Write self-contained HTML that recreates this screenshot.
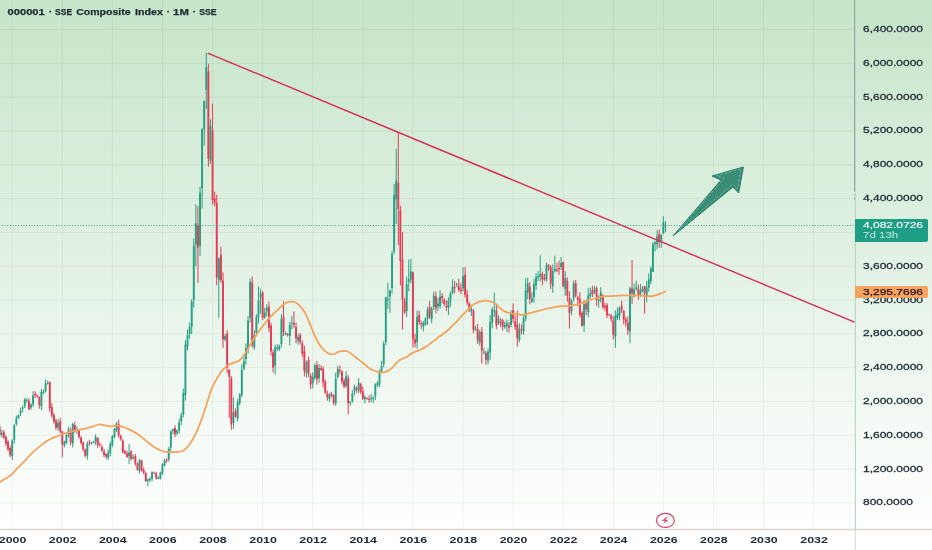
<!DOCTYPE html>
<html lang="en"><head><meta charset="utf-8"><title>000001 SSE Composite Index 1M</title>
<style>html,body{margin:0;padding:0;background:#fff;overflow:hidden}svg{display:block}</style></head>
<body><svg width="932" height="550" viewBox="0 0 932 550" font-family="'Liberation Sans', sans-serif">
<defs><linearGradient id="bg" x1="0" y1="0" x2="0" y2="1"><stop offset="0" stop-color="#c6e5c9"/><stop offset="0.55" stop-color="#e7f4e9"/><stop offset="0.96" stop-color="#ffffff"/><stop offset="1" stop-color="#ffffff"/></linearGradient><clipPath id="cp"><rect x="0" y="0" width="855" height="529"/></clipPath></defs>
<rect width="932" height="550" fill="url(#bg)"/>
<path d="M12.2 0V529 M62.290000000000006 0V529 M112.38000000000001 0V529 M162.47 0V529 M212.56 0V529 M262.65000000000003 0V529 M312.74 0V529 M362.83 0V529 M412.92 0V529 M463.01000000000005 0V529 M513.1 0V529 M563.19 0V529 M613.2800000000001 0V529 M663.3700000000001 0V529 M713.46 0V529 M763.5500000000001 0V529 M813.6400000000001 0V529 M0 502.9H855 M0 469.1H855 M0 435.3H855 M0 401.5H855 M0 367.6H855 M0 333.8H855 M0 300.0H855 M0 266.2H855 M0 232.4H855 M0 198.6H855 M0 164.8H855 M0 130.9H855 M0 97.1H855 M0 63.3H855 M0 29.5H855" stroke="#284632" stroke-opacity="0.068" stroke-width="1" fill="none"/>
<g clip-path="url(#cp)">
<path d="M1.76 429.9V437.4M12.20 439.1V459.9M14.29 424.0V443.6M16.37 415.5V425.8M18.46 414.3V418.8M20.55 407.6V416.0M22.64 405.6V412.3M24.72 397.9V408.0M26.81 398.3V403.0M30.98 402.9V409.7M33.07 391.2V407.0M41.42 388.9V410.3M43.51 389.7V394.2M45.59 379.3V392.5M47.68 380.7V384.7M58.12 419.2V430.7M64.38 440.8V447.4M66.46 433.5V444.0M68.55 426.6V437.8M72.73 422.8V447.5M76.90 426.3V434.0M87.34 441.4V459.7M91.51 441.8V444.5M93.60 440.9V442.7M95.68 434.1V445.2M108.21 449.6V460.0M110.29 441.6V456.3M112.38 434.9V447.1M114.47 427.8V438.3M116.55 421.9V432.2M129.08 444.1V464.1M133.25 454.5V459.6M139.51 459.1V473.4M147.86 478.6V486.2M149.95 476.8V481.9M152.03 471.2V481.6M158.30 476.3V479.2M160.38 471.6V479.6M162.47 463.3V475.0M164.56 458.8V466.6M168.73 446.8V461.6M170.82 430.1V450.8M172.91 428.6V434.3M177.08 429.4V435.3M179.17 418.9V433.8M181.25 412.5V425.0M183.34 388.7V417.2M185.43 340.2V400.4M187.52 329.5V350.6M189.60 322.7V338.9M191.69 299.3V333.9M193.78 238.3V307.6M195.86 204.1V266.2M200.04 186.8V256.0M202.12 128.0V208.4M204.21 100.5V145.7M206.30 52.8V108.8M210.47 119.4V163.7M218.82 257.3V317.8M225.08 333.8V341.4M233.43 397.2V428.7M237.61 399.1V421.5M239.69 393.1V405.3M241.78 364.3V397.3M243.87 356.4V370.2M245.95 343.4V364.5M248.04 316.1V353.6M250.13 278.5V322.5M254.30 330.1V349.9M256.39 314.4V336.2M258.48 286.4V323.4M260.56 288.7V313.6M264.74 307.7V318.7M266.82 304.3V316.3M275.17 344.7V374.5M277.26 344.2V351.2M279.35 344.6V351.0M281.43 314.0V347.2M285.61 331.5V335.3M289.78 321.7V345.6M291.87 315.9V329.6M298.13 333.7V344.7M306.48 360.6V377.8M312.74 372.3V388.1M314.83 363.5V379.9M319.00 364.0V382.7M329.44 393.2V401.8M335.70 372.8V405.8M337.79 365.9V378.9M346.13 371.2V387.8M350.31 400.9V405.8M352.39 390.3V402.8M354.48 384.8V395.1M358.66 378.1V393.3M364.92 395.4V403.3M371.18 394.0V402.2M373.27 396.2V402.9M375.35 383.2V400.2M377.44 381.0V386.9M379.53 369.5V387.1M381.61 360.9V372.9M383.70 341.1V367.2M385.79 296.7V345.2M387.88 282.6V308.9M389.96 289.5V312.8M392.05 250.8V293.7M394.14 184.0V254.2M396.22 149.0V224.0M406.66 276.7V317.1M408.75 259.6V291.4M410.83 259.1V283.2M417.09 310.5V348.4M423.36 321.1V331.4M425.44 317.4V325.6M427.53 306.8V325.0M431.70 306.7V323.2M433.79 291.8V309.9M437.97 297.8V311.3M440.05 290.4V308.9M448.40 297.3V315.0M450.49 291.4V306.5M452.57 279.3V294.5M456.75 282.7V287.3M463.01 267.3V291.6M471.36 304.7V316.0M475.53 325.8V331.1M479.71 330.3V345.8M483.88 347.9V354.8M488.06 348.4V364.3M490.14 314.9V360.3M492.23 306.8V328.4M494.32 292.6V316.9M498.49 315.4V325.1M504.75 321.5V328.8M506.84 319.3V332.0M511.01 310.2V327.2M519.36 323.4V342.4M523.54 315.7V334.8M525.62 278.2V321.2M527.71 277.8V299.2M531.88 292.2V303.1M533.97 279.0V302.7M536.06 273.1V290.1M538.15 271.1V281.1M540.23 255.1V281.4M546.49 262.6V281.9M552.75 264.6V292.9M554.84 255.8V272.3M561.10 257.1V270.0M565.28 271.5V295.9M571.54 299.1V315.2M573.63 280.4V301.7M584.06 300.2V332.1M588.24 287.8V317.3M590.32 287.7V298.5M594.50 286.1V294.1M598.67 295.4V307.8M600.76 287.2V302.3M615.37 310.4V347.8M617.45 307.4V320.1M619.54 306.5V320.3M629.98 286.7V343.2M634.15 283.5V297.4M636.24 280.7V290.7M640.41 284.0V296.9M642.50 285.9V292.3M646.67 281.2V302.4M648.76 273.5V291.9M650.85 266.3V284.3M652.93 241.9V271.8M655.02 240.9V251.5M657.11 230.3V249.3M661.28 234.2V247.9M663.37 216.3V234.2M665.46 221.0V231.8" stroke="#27a083" stroke-width="1" fill="none"/>
<path d="M-0.32 424.1V436.2M3.85 430.1V439.0M5.94 435.3V446.3M8.03 440.2V451.1M10.11 445.5V457.2M28.90 398.3V410.4M35.16 391.4V397.8M37.25 394.7V398.1M39.33 396.4V408.6M49.77 381.8V412.2M51.85 403.3V417.8M53.94 412.7V423.8M56.03 418.6V430.2M60.20 417.8V433.1M62.29 431.2V457.3M70.64 427.8V445.3M74.81 421.5V432.8M78.99 428.9V439.1M81.07 436.2V444.7M83.16 441.7V451.5M85.25 448.8V457.3M89.42 439.8V445.8M97.77 437.0V448.1M99.86 442.4V446.4M101.94 444.8V452.0M104.03 448.8V457.0M106.12 453.5V459.1M118.64 419.8V437.6M120.73 434.7V440.6M122.82 439.0V453.3M124.90 449.8V454.2M126.99 450.7V457.8M131.16 449.9V460.9M135.34 454.0V465.7M137.43 462.4V470.6M141.60 459.6V471.7M143.69 467.6V474.4M145.77 471.9V482.2M154.12 471.8V473.1M156.21 471.7V479.7M166.64 458.2V462.8M174.99 425.3V437.1M197.95 206.0V282.8M208.39 63.7V166.6M212.56 103.7V204.5M214.65 191.8V206.4M216.73 194.7V285.1M220.91 246.7V282.7M223.00 272.4V348.1M227.17 330.0V373.0M229.26 369.6V418.2M231.34 376.1V429.9M235.52 408.5V417.5M252.21 276.5V347.4M262.65 291.1V320.1M268.91 301.6V332.1M271.00 322.7V355.7M273.09 349.5V372.5M283.52 301.2V336.0M287.70 333.0V336.5M293.96 311.3V327.8M296.04 322.6V343.2M300.22 333.0V344.5M302.30 340.6V356.7M304.39 345.8V376.5M308.57 356.6V377.1M310.65 373.1V389.3M316.91 361.0V384.5M321.09 365.2V370.8M323.18 366.4V387.5M325.26 379.5V394.3M327.35 390.8V400.7M331.52 391.8V397.1M333.61 394.4V405.1M339.87 365.5V374.2M341.96 370.4V384.6M344.05 378.3V388.3M348.22 375.0V414.2M356.57 386.5V393.0M360.74 382.5V394.2M362.83 386.6V400.1M367.00 397.6V399.3M369.09 395.4V402.9M398.31 132.8V245.3M400.40 205.6V285.4M402.48 231.9V329.6M404.57 297.9V313.9M412.92 271.4V347.5M415.01 333.8V347.5M419.18 310.7V324.9M421.27 320.7V328.8M429.62 300.8V319.2M435.88 291.5V313.4M442.14 293.1V303.3M444.23 297.8V306.2M446.31 300.4V311.0M454.66 280.9V293.4M458.84 278.9V291.6M460.92 283.2V294.0M465.10 266.9V297.6M467.18 289.7V305.1M469.27 301.8V312.1M473.45 309.0V333.3M477.62 324.0V344.1M481.79 327.1V363.5M485.97 350.6V365.0M496.40 305.0V329.2M500.58 318.1V326.8M502.66 318.8V330.8M508.93 321.9V332.8M513.10 303.5V322.7M515.19 315.9V330.0M517.27 310.7V346.8M521.45 324.3V334.3M529.80 282.0V304.3M542.32 271.5V285.5M544.41 274.0V281.1M548.58 264.0V270.7M550.67 265.0V289.0M556.93 262.9V272.3M559.02 260.8V274.9M563.19 261.8V286.7M567.36 277.3V301.7M569.45 291.4V328.5M575.71 279.9V297.2M577.80 295.9V306.1M579.89 292.1V317.4M581.97 311.2V326.6M586.15 299.6V315.3M592.41 285.7V297.0M596.58 286.3V305.8M602.84 294.2V309.0M604.93 303.0V311.3M607.02 303.2V317.9M609.11 313.7V315.1M611.19 314.0V321.9M613.28 316.4V339.3M621.63 300.5V312.8M623.72 309.9V324.3M625.80 316.7V326.4M627.89 316.6V335.1M632.06 259.9V304.1M638.33 284.6V299.8M644.59 286.0V313.5M659.20 229.5V247.9" stroke="#e63a55" stroke-width="1" fill="none"/>
<path d="M1.76 433.0V434.7M12.20 440.8V456.1M14.29 425.6V439.8M16.37 418.4V424.0M18.46 415.3V418.2M20.55 410.4V413.6M22.64 407.5V408.8M24.72 399.5V406.3M26.81 399.7V400.7M30.98 404.8V407.5M33.07 395.5V404.4M41.42 392.0V406.2M43.51 391.4V392.4M45.59 383.4V391.2M47.68 383.0V384.0M58.12 422.8V427.8M64.38 441.7V445.6M66.46 435.0V443.0M68.55 429.6V434.5M72.73 424.1V443.6M76.90 429.7V431.0M87.34 443.8V455.5M91.51 442.9V444.0M93.60 442.0V443.0M95.68 437.3V442.2M108.21 452.4V457.8M110.29 444.0V452.9M112.38 436.1V444.7M114.47 428.9V437.0M116.55 423.4V430.5M129.08 452.5V456.2M133.25 457.3V458.4M139.51 460.1V470.7M147.86 479.2V481.0M149.95 479.0V480.0M152.03 472.3V478.9M158.30 477.6V478.9M160.38 472.4V478.2M162.47 464.2V473.5M164.56 460.7V464.9M168.73 448.8V459.8M170.82 431.8V447.4M172.91 429.2V431.3M177.08 430.4V433.2M179.17 422.4V430.4M181.25 415.2V421.3M183.34 393.1V414.6M185.43 344.4V395.1M187.52 335.0V346.5M189.60 327.0V334.3M191.69 301.5V327.0M193.78 245.8V299.8M195.86 223.2V244.6M200.04 192.6V245.8M202.12 129.4V188.3M204.21 101.2V129.6M206.30 67.2V90.1M210.47 125.8V160.7M218.82 258.3V279.7M225.08 335.9V339.5M233.43 412.4V423.1M237.61 402.3V418.5M239.69 394.5V403.1M241.78 369.9V395.3M243.87 361.1V368.7M245.95 348.0V359.0M248.04 320.4V349.2M250.13 282.1V317.4M254.30 335.6V347.2M256.39 317.3V333.1M258.48 300.4V317.3M260.56 293.5V297.5M264.74 312.6V317.6M266.82 307.7V311.2M275.17 347.6V365.5M277.26 347.5V348.7M279.35 346.1V349.3M281.43 318.8V343.9M285.61 333.2V334.2M289.78 325.0V336.0M291.87 323.0V324.0M298.13 337.0V340.7M306.48 361.9V373.4M312.74 376.8V383.2M314.83 365.3V377.9M319.00 368.0V378.3M329.44 394.2V399.1M335.70 378.7V403.3M337.79 368.9V377.0M346.13 376.1V385.8M350.31 402.1V403.1M352.39 393.2V401.1M354.48 386.7V391.2M358.66 382.9V390.4M364.92 396.7V399.1M371.18 398.2V399.2M373.27 397.4V398.9M375.35 384.5V396.4M377.44 383.1V385.0M379.53 370.8V384.6M381.61 366.0V371.5M383.70 343.8V363.7M385.79 297.1V342.1M387.88 299.2V300.2M389.96 290.7V296.4M392.05 253.8V288.1M394.14 195.1V251.4M396.22 180.7V199.3M406.66 284.6V310.9M408.75 279.3V281.6M410.83 271.4V279.5M417.09 316.7V341.7M423.36 322.9V326.5M425.44 318.7V324.4M427.53 309.7V318.4M431.70 308.5V319.1M433.79 295.8V307.1M437.97 303.5V306.7M440.05 296.5V305.9M448.40 300.7V308.1M450.49 293.8V300.6M452.57 286.5V292.8M456.75 283.7V284.7M463.01 276.3V288.5M471.36 308.9V311.5M475.53 327.4V328.8M479.71 332.1V342.6M483.88 351.8V352.8M488.06 352.1V360.7M490.14 322.0V352.5M492.23 309.3V322.8M494.32 310.3V311.3M498.49 318.8V323.3M504.75 325.0V327.3M506.84 322.9V326.2M511.01 312.7V325.1M519.36 328.8V340.0M523.54 318.3V331.3M525.62 290.7V318.2M527.71 283.5V292.4M531.88 298.0V301.5M533.97 283.9V297.3M536.06 276.9V285.2M538.15 276.1V277.5M540.23 273.9V276.5M546.49 264.9V279.4M552.75 271.0V286.2M554.84 268.9V270.9M561.10 262.9V267.1M565.28 277.9V288.7M571.54 301.2V311.0M573.63 283.3V298.5M584.06 304.2V325.2M588.24 295.4V311.9M590.32 293.3V296.1M594.50 289.6V292.2M598.67 299.8V301.3M600.76 292.3V299.3M615.37 315.7V336.5M617.45 313.5V317.9M619.54 308.1V315.6M629.98 288.5V331.7M634.15 289.4V296.3M636.24 287.3V289.0M640.41 289.9V294.9M642.50 288.6V291.2M646.67 287.6V296.6M648.76 279.4V287.8M650.85 268.5V281.3M652.93 244.5V271.8M655.02 242.4V244.2M657.11 236.3V244.2M661.28 235.1V241.7M663.37 222.4V233.6M665.46 225.4V226.4" stroke="#27a083" stroke-width="1.9" fill="none"/>
<path d="M-0.32 427.2V435.2M3.85 432.2V437.8M5.94 436.9V443.4M8.03 441.9V449.3M10.11 448.0V455.1M28.90 400.7V409.1M35.16 393.8V395.3M37.25 395.2V396.2M39.33 397.3V404.9M49.77 381.8V408.2M51.85 407.2V415.5M53.94 415.1V421.4M56.03 420.7V427.7M60.20 421.5V431.4M62.29 431.2V444.5M70.64 430.8V442.5M74.81 425.1V431.0M78.99 430.8V436.9M81.07 437.4V443.1M83.16 442.5V449.3M85.25 449.5V455.8M89.42 442.3V443.3M97.77 438.1V444.9M99.86 444.7V445.8M101.94 447.1V450.4M104.03 451.6V455.0M106.12 454.1V456.6M118.64 424.0V435.7M120.73 435.7V439.1M122.82 440.6V452.3M124.90 451.6V453.4M126.99 453.4V457.1M131.16 451.6V458.9M135.34 456.3V463.5M137.43 463.8V469.8M141.60 460.8V470.7M143.69 469.9V472.6M145.77 473.1V480.9M154.12 472.7V473.7M156.21 473.2V478.2M166.64 460.1V461.1M174.99 427.9V434.3M197.95 225.2V247.6M208.39 71.5V158.8M212.56 130.5V200.0M214.65 198.3V203.0M216.73 202.8V277.0M220.91 254.8V280.3M223.00 280.6V339.2M227.17 333.4V367.9M229.26 369.6V376.7M231.34 378.4V424.5M235.52 410.9V416.7M252.21 282.6V345.1M262.65 292.6V317.9M268.91 306.8V327.9M271.00 325.4V351.4M273.09 352.2V367.8M283.52 316.3V332.1M287.70 334.1V335.1M293.96 322.9V324.4M296.04 327.0V338.6M300.22 335.0V342.2M302.30 343.6V353.5M304.39 351.2V371.1M308.57 359.9V373.3M310.65 375.7V384.6M316.91 365.2V379.3M321.09 368.2V370.0M323.18 368.7V382.4M325.26 381.8V392.8M327.35 393.8V397.5M331.52 393.8V395.7M333.61 395.3V403.1M339.87 370.1V371.1M341.96 371.5V381.5M344.05 380.7V386.5M348.22 378.3V403.2M356.57 387.9V389.5M360.74 384.3V391.7M362.83 391.0V398.7M367.00 398.2V399.2M369.09 399.1V400.1M398.31 183.0V209.0M400.40 210.4V260.9M402.48 260.0V299.6M404.57 300.8V312.5M412.92 272.2V339.2M415.01 339.2V343.4M419.18 315.0V322.2M421.27 323.2V324.2M429.62 307.3V316.6M435.88 296.3V308.2M442.14 296.1V298.2M444.23 300.1V303.9M446.31 306.1V307.1M454.66 286.7V287.7M458.84 286.3V290.1M460.92 289.6V291.0M465.10 274.4V295.0M467.18 294.4V302.7M469.27 303.6V310.0M473.45 310.8V329.9M477.62 329.1V340.2M481.79 331.8V350.6M485.97 352.9V359.8M496.40 310.8V325.5M500.58 321.7V322.7M502.66 320.2V326.6M508.93 325.2V327.8M513.10 310.0V319.0M515.19 321.6V327.1M517.27 324.7V338.1M521.45 329.3V330.3M529.80 286.7V298.5M542.32 274.0V279.6M544.41 277.7V279.2M548.58 265.4V267.0M550.67 266.9V283.4M556.93 269.8V270.8M559.02 268.1V269.3M563.19 262.0V286.4M567.36 280.9V295.6M569.45 297.9V312.9M575.71 283.2V295.5M577.80 297.6V299.8M579.89 298.7V314.9M581.97 313.1V326.0M586.15 303.8V309.4M592.41 290.1V293.9M596.58 288.0V299.7M602.84 295.6V306.9M604.93 306.1V307.6M607.02 305.1V315.4M609.11 314.5V315.5M611.19 315.4V319.1M613.28 320.8V334.8M621.63 305.8V309.7M623.72 311.1V319.7M625.80 319.3V322.2M627.89 322.5V330.3M632.06 288.3V293.3M638.33 289.3V295.8M644.59 286.0V293.3M659.20 234.0V241.9" stroke="#e63a55" stroke-width="1.9" fill="none"/>
<path d="M0.0 482.0C1.0 481.4 3.9 479.5 5.8 478.3C7.7 477.1 9.7 476.4 11.6 474.7C13.5 473.0 15.4 470.3 17.4 468.2C19.3 466.1 21.4 464.3 23.3 462.3C25.2 460.3 27.2 458.2 29.1 456.2C31.0 454.2 33.0 452.2 34.9 450.4C36.8 448.6 38.8 447.1 40.7 445.6C42.6 444.1 44.6 442.6 46.5 441.3C48.4 440.1 50.3 439.0 52.3 438.1C54.2 437.2 56.2 436.6 58.2 435.9C60.2 435.1 62.1 434.3 64.0 433.6C65.9 432.9 67.9 432.3 69.8 431.8C71.7 431.3 73.7 430.8 75.6 430.4C77.5 430.0 79.5 429.6 81.4 429.2C83.3 428.8 85.2 428.7 87.2 428.2C89.2 427.7 91.0 426.9 93.1 426.3C95.2 425.7 97.7 424.5 99.6 424.3C101.5 424.1 102.9 425.1 104.7 425.4C106.5 425.7 108.6 426.3 110.5 426.3C112.4 426.3 114.7 425.4 116.3 425.3C117.9 425.2 118.4 425.4 120.0 425.8C121.6 426.2 123.9 427.2 125.8 428.0C127.7 428.8 129.7 429.6 131.6 430.6C133.5 431.6 135.6 432.8 137.5 434.1C139.4 435.4 141.4 437.0 143.3 438.5C145.2 440.0 147.2 441.8 149.1 443.3C151.0 444.8 153.0 446.4 154.9 447.6C156.8 448.8 158.8 449.8 160.7 450.5C162.6 451.2 164.6 451.7 166.5 452.0C168.4 452.3 170.5 452.1 172.4 452.1C174.3 452.1 176.5 452.2 178.2 452.0C179.9 451.8 181.1 451.7 182.5 451.0C183.9 450.3 185.4 449.1 186.9 447.6C188.4 446.1 189.9 444.1 191.3 441.8C192.8 439.5 194.2 436.8 195.6 433.8C197.0 430.8 198.5 427.4 200.0 423.6C201.5 419.9 203.0 415.7 204.4 411.3C205.8 406.9 207.5 401.2 208.7 397.5C209.9 393.8 210.5 391.5 211.5 389.0C212.5 386.5 213.4 384.8 214.5 382.7C215.6 380.6 217.0 378.4 218.2 376.4C219.4 374.4 220.6 372.4 221.8 370.9C223.0 369.4 224.3 368.4 225.5 367.3C226.7 366.2 227.9 365.2 229.1 364.5C230.3 363.8 231.5 363.6 232.7 363.1C233.9 362.7 235.2 362.3 236.4 361.8C237.6 361.3 238.8 361.1 240.0 360.0C241.2 358.9 242.4 357.2 243.6 355.5C244.8 353.8 246.1 352.0 247.3 350.0C248.5 348.0 249.7 345.7 250.9 343.6C252.1 341.5 253.3 339.5 254.5 337.6C255.7 335.7 257.0 333.9 258.2 332.2C259.4 330.5 260.6 328.9 261.8 327.3C263.0 325.7 264.3 324.2 265.5 322.7C266.7 321.2 267.9 319.6 269.1 318.2C270.3 316.8 271.5 315.7 272.7 314.5C273.9 313.3 275.2 312.0 276.4 310.9C277.6 309.8 278.8 308.7 280.0 307.6C281.2 306.5 282.4 305.4 283.6 304.5C284.8 303.6 286.1 302.9 287.3 302.4C288.5 301.9 289.7 301.7 290.9 301.6C292.1 301.5 293.3 301.6 294.5 302.0C295.7 302.4 297.0 303.2 298.2 304.2C299.4 305.2 300.6 306.6 301.8 308.2C303.0 309.8 304.3 311.3 305.5 313.6C306.7 315.9 307.9 318.9 309.1 321.8C310.3 324.7 311.5 328.0 312.7 330.9C313.9 333.8 315.2 336.7 316.4 339.1C317.6 341.5 318.8 343.8 320.0 345.5C321.2 347.2 322.4 348.4 323.6 349.6C324.8 350.8 326.1 351.9 327.3 352.7C328.5 353.5 329.7 354.1 330.9 354.3C332.1 354.5 333.4 354.3 334.5 354.0C335.6 353.7 336.2 352.8 337.3 352.4C338.4 351.9 339.7 351.6 340.9 351.3C342.1 351.1 343.3 350.8 344.5 350.9C345.7 351.0 347.0 351.2 348.2 351.8C349.4 352.4 350.6 353.3 351.8 354.2C353.0 355.1 354.3 356.3 355.5 357.3C356.7 358.3 357.9 359.1 359.1 360.0C360.3 360.9 361.5 361.7 362.7 362.7C363.9 363.7 365.2 364.8 366.4 365.8C367.6 366.8 368.8 367.9 370.0 368.7C371.2 369.5 372.4 370.0 373.6 370.5C374.8 371.0 376.1 371.5 377.3 371.8C378.5 372.1 379.7 372.3 380.9 372.4C382.1 372.5 383.3 372.4 384.5 372.2C385.7 371.9 387.0 371.6 388.2 370.9C389.4 370.2 390.6 369.3 391.8 368.2C393.0 367.1 394.3 365.3 395.5 364.0C396.7 362.7 397.9 361.3 399.1 360.4C400.3 359.5 401.5 359.2 402.7 358.7C403.9 358.2 405.2 358.0 406.4 357.3C407.6 356.6 408.8 355.3 410.0 354.5C411.2 353.7 412.4 353.0 413.6 352.4C414.8 351.8 416.1 351.4 417.3 350.9C418.5 350.4 419.7 350.1 420.9 349.5C422.1 348.9 423.3 348.3 424.5 347.6C425.7 346.9 427.0 346.0 428.2 345.1C429.4 344.2 430.6 343.3 431.8 342.4C433.0 341.5 434.3 340.6 435.5 339.6C436.7 338.7 437.9 337.6 439.1 336.7C440.3 335.8 441.5 335.1 442.7 334.2C443.9 333.3 445.2 332.5 446.4 331.5C447.6 330.5 448.8 329.4 450.0 328.2C451.2 327.0 452.4 325.7 453.6 324.5C454.8 323.3 456.1 322.2 457.3 320.9C458.5 319.6 459.7 318.2 460.9 316.9C462.1 315.6 463.4 314.3 464.5 313.2C465.6 312.1 466.5 311.1 467.6 310.0C468.7 308.9 469.8 307.7 470.9 306.7C472.0 305.7 473.3 304.8 474.5 304.0C475.7 303.2 477.0 302.7 478.2 302.2C479.4 301.7 480.6 301.4 481.8 301.1C483.0 300.9 484.3 300.7 485.5 300.7C486.7 300.7 487.9 300.9 489.1 301.1C490.3 301.4 491.5 301.6 492.7 302.2C493.9 302.8 495.2 303.5 496.4 304.5C497.6 305.5 498.8 307.1 500.0 308.2C501.2 309.3 502.4 310.2 503.6 310.9C504.8 311.6 506.1 312.0 507.3 312.4C508.5 312.8 509.7 313.0 510.9 313.3C512.1 313.6 513.3 313.8 514.5 314.0C515.7 314.2 517.0 314.4 518.2 314.5C519.4 314.6 520.6 314.9 521.8 314.9C523.0 314.9 524.3 314.7 525.5 314.4C526.7 314.1 527.9 313.6 529.1 313.3C530.3 313.0 531.5 312.7 532.7 312.4C533.9 312.1 535.2 311.8 536.4 311.5C537.6 311.2 538.8 310.7 540.0 310.4C541.2 310.1 542.4 309.8 543.6 309.5C544.8 309.2 546.1 308.8 547.3 308.5C548.5 308.2 549.7 308.0 550.9 307.8C552.1 307.6 553.3 307.3 554.5 307.1C555.7 306.9 557.0 306.6 558.2 306.5C559.4 306.4 560.6 306.3 561.8 306.2C563.0 306.1 564.3 306.1 565.5 306.0C566.7 305.9 567.9 305.9 569.1 305.8C570.3 305.7 571.5 305.5 572.7 305.3C573.9 305.1 575.2 304.9 576.4 304.6C577.6 304.4 578.8 304.2 580.0 303.8C581.2 303.4 582.4 302.9 583.6 302.4C584.9 301.9 586.3 301.1 587.5 300.6C588.7 300.1 589.7 300.0 590.9 299.6C592.1 299.2 593.3 298.8 594.5 298.5C595.7 298.2 596.5 298.0 598.2 297.6C599.9 297.2 602.3 296.5 604.9 296.2C607.5 295.9 610.7 296.1 613.6 296.0C616.5 295.9 619.5 295.5 622.4 295.4C625.3 295.3 628.2 295.4 631.1 295.4C634.0 295.4 636.9 295.5 639.8 295.6C642.7 295.7 646.3 296.1 648.5 296.2C650.7 296.3 651.4 296.2 652.9 296.0C654.4 295.8 655.8 295.2 657.3 294.7C658.8 294.2 660.2 293.7 661.6 293.2C663.0 292.7 664.8 291.9 665.4 291.7" fill="none" stroke="#f5a35c" stroke-width="1.8" stroke-linejoin="round" stroke-linecap="round"/>
<line x1="207.7" y1="53.1" x2="854.5" y2="322.2" stroke="#da2b56" stroke-width="1.4"/>
<line x1="-0.99" y1="225.5" x2="855" y2="225.5" stroke="#35a57a" stroke-width="1" stroke-dasharray="1 1.71"/>
<polygon points="673,236 721,180 712,176 743.4,167 738.6,193 733,187" fill="#3b8b75" stroke="#2f7a66" stroke-width="1" stroke-linejoin="miter"/>
<polygon points="678.5,230.5 724,178.5 716.5,175.5 741,169 737.5,189 732.6,184" fill="none" stroke="#62c7a3" stroke-width="0.8" stroke-dasharray="3 1.5" stroke-linejoin="miter"/>
</g>
<path d="M0 529.6H932" stroke="#d9d5d3" stroke-width="1.5" fill="none"/>
<path d="M855.4 0V530" stroke="#bdd7c3" stroke-width="1.2" fill="none"/><path d="M855.4 530V550" stroke="#dcdedb" stroke-width="1.2" fill="none"/><path d="M854.5 0V191.5M854.5 194V195M854.5 197.5V199.5" stroke="#93a7a6" stroke-width="1" fill="none"/>
<ellipse cx="665.4" cy="520.4" rx="10.6" ry="8.6" fill="#ffffff"/><ellipse cx="665.4" cy="520.4" rx="9" ry="7" fill="#ffffff" stroke="#e23a58" stroke-width="1.15"/>
<path d="M667.8 516 L661.5 520.9 L665.1 520.8 L663 524 L668.7 519.8 L665.4 520 Z" fill="#e23a58"/>
<text x="7.5" y="15" font-size="9.6" font-weight="bold" fill="#1e2b33" stroke="#1e2b33" stroke-width="0.25" textLength="37.3" lengthAdjust="spacingAndGlyphs">000001</text>
<text x="48.75" y="15" font-size="9.6" font-weight="bold" fill="#1e2b33" stroke="#1e2b33" stroke-width="0.25" textLength="3.3" lengthAdjust="spacingAndGlyphs">·</text>
<text x="55.1" y="15" font-size="9.6" font-weight="bold" fill="#1e2b33" stroke="#1e2b33" stroke-width="0.25" textLength="17.0" lengthAdjust="spacingAndGlyphs">SSE</text>
<text x="76.2" y="15" font-size="9.6" font-weight="bold" fill="#1e2b33" stroke="#1e2b33" stroke-width="0.25" textLength="54.4" lengthAdjust="spacingAndGlyphs">Composite</text>
<text x="135.1" y="15" font-size="9.6" font-weight="bold" fill="#1e2b33" stroke="#1e2b33" stroke-width="0.25" textLength="27.9" lengthAdjust="spacingAndGlyphs">Index</text>
<text x="166.65" y="15" font-size="9.6" font-weight="bold" fill="#1e2b33" stroke="#1e2b33" stroke-width="0.25" textLength="3.3" lengthAdjust="spacingAndGlyphs">·</text>
<text x="173.1" y="15" font-size="9.6" font-weight="bold" fill="#1e2b33" stroke="#1e2b33" stroke-width="0.25" textLength="15.7" lengthAdjust="spacingAndGlyphs">1M</text>
<text x="192.85" y="15" font-size="9.6" font-weight="bold" fill="#1e2b33" stroke="#1e2b33" stroke-width="0.25" textLength="3.3" lengthAdjust="spacingAndGlyphs">·</text>
<text x="199.2" y="15" font-size="9.6" font-weight="bold" fill="#1e2b33" stroke="#1e2b33" stroke-width="0.25" textLength="17.4" lengthAdjust="spacingAndGlyphs">SSE</text>
<text x="863" y="505.4" font-size="9.9" font-weight="normal" fill="#1e2b33" text-anchor="start" textLength="50" lengthAdjust="spacingAndGlyphs" stroke="#1e2b33" stroke-width="0.28">800.0000</text>
<text x="863" y="471.6" font-size="9.9" font-weight="normal" fill="#1e2b33" text-anchor="start" textLength="60" lengthAdjust="spacingAndGlyphs" stroke="#1e2b33" stroke-width="0.28">1,200.0000</text>
<text x="863" y="437.8" font-size="9.9" font-weight="normal" fill="#1e2b33" text-anchor="start" textLength="60" lengthAdjust="spacingAndGlyphs" stroke="#1e2b33" stroke-width="0.28">1,600.0000</text>
<text x="863" y="404.0" font-size="9.9" font-weight="normal" fill="#1e2b33" text-anchor="start" textLength="60" lengthAdjust="spacingAndGlyphs" stroke="#1e2b33" stroke-width="0.28">2,000.0000</text>
<text x="863" y="370.1" font-size="9.9" font-weight="normal" fill="#1e2b33" text-anchor="start" textLength="60" lengthAdjust="spacingAndGlyphs" stroke="#1e2b33" stroke-width="0.28">2,400.0000</text>
<text x="863" y="336.3" font-size="9.9" font-weight="normal" fill="#1e2b33" text-anchor="start" textLength="60" lengthAdjust="spacingAndGlyphs" stroke="#1e2b33" stroke-width="0.28">2,800.0000</text>
<text x="863" y="302.5" font-size="9.9" font-weight="normal" fill="#1e2b33" text-anchor="start" textLength="60" lengthAdjust="spacingAndGlyphs" stroke="#1e2b33" stroke-width="0.28">3,200.0000</text>
<text x="863" y="268.7" font-size="9.9" font-weight="normal" fill="#1e2b33" text-anchor="start" textLength="60" lengthAdjust="spacingAndGlyphs" stroke="#1e2b33" stroke-width="0.28">3,600.0000</text>
<text x="863" y="234.9" font-size="9.9" font-weight="normal" fill="#1e2b33" text-anchor="start" textLength="60" lengthAdjust="spacingAndGlyphs" stroke="#1e2b33" stroke-width="0.28">4,000.0000</text>
<text x="863" y="201.1" font-size="9.9" font-weight="normal" fill="#1e2b33" text-anchor="start" textLength="60" lengthAdjust="spacingAndGlyphs" stroke="#1e2b33" stroke-width="0.28">4,400.0000</text>
<text x="863" y="167.3" font-size="9.9" font-weight="normal" fill="#1e2b33" text-anchor="start" textLength="60" lengthAdjust="spacingAndGlyphs" stroke="#1e2b33" stroke-width="0.28">4,800.0000</text>
<text x="863" y="133.4" font-size="9.9" font-weight="normal" fill="#1e2b33" text-anchor="start" textLength="60" lengthAdjust="spacingAndGlyphs" stroke="#1e2b33" stroke-width="0.28">5,200.0000</text>
<text x="863" y="99.6" font-size="9.9" font-weight="normal" fill="#1e2b33" text-anchor="start" textLength="60" lengthAdjust="spacingAndGlyphs" stroke="#1e2b33" stroke-width="0.28">5,600.0000</text>
<text x="863" y="65.8" font-size="9.9" font-weight="normal" fill="#1e2b33" text-anchor="start" textLength="60" lengthAdjust="spacingAndGlyphs" stroke="#1e2b33" stroke-width="0.28">6,000.0000</text>
<text x="863" y="32.0" font-size="9.9" font-weight="normal" fill="#1e2b33" text-anchor="start" textLength="60" lengthAdjust="spacingAndGlyphs" stroke="#1e2b33" stroke-width="0.28">6,400.0000</text>
<text x="12.6" y="543.4" font-size="9.6" font-weight="bold" fill="#1e2b33" text-anchor="middle" textLength="27.6" lengthAdjust="spacingAndGlyphs">2000</text>
<text x="62.690000000000005" y="543.4" font-size="9.6" font-weight="bold" fill="#1e2b33" text-anchor="middle" textLength="27.6" lengthAdjust="spacingAndGlyphs">2002</text>
<text x="112.78" y="543.4" font-size="9.6" font-weight="bold" fill="#1e2b33" text-anchor="middle" textLength="27.6" lengthAdjust="spacingAndGlyphs">2004</text>
<text x="162.87" y="543.4" font-size="9.6" font-weight="bold" fill="#1e2b33" text-anchor="middle" textLength="27.6" lengthAdjust="spacingAndGlyphs">2006</text>
<text x="212.96" y="543.4" font-size="9.6" font-weight="bold" fill="#1e2b33" text-anchor="middle" textLength="27.6" lengthAdjust="spacingAndGlyphs">2008</text>
<text x="263.05" y="543.4" font-size="9.6" font-weight="bold" fill="#1e2b33" text-anchor="middle" textLength="27.6" lengthAdjust="spacingAndGlyphs">2010</text>
<text x="313.14000000000004" y="543.4" font-size="9.6" font-weight="bold" fill="#1e2b33" text-anchor="middle" textLength="27.6" lengthAdjust="spacingAndGlyphs">2012</text>
<text x="363.23" y="543.4" font-size="9.6" font-weight="bold" fill="#1e2b33" text-anchor="middle" textLength="27.6" lengthAdjust="spacingAndGlyphs">2014</text>
<text x="413.32000000000005" y="543.4" font-size="9.6" font-weight="bold" fill="#1e2b33" text-anchor="middle" textLength="27.6" lengthAdjust="spacingAndGlyphs">2016</text>
<text x="463.4100000000001" y="543.4" font-size="9.6" font-weight="bold" fill="#1e2b33" text-anchor="middle" textLength="27.6" lengthAdjust="spacingAndGlyphs">2018</text>
<text x="513.5" y="543.4" font-size="9.6" font-weight="bold" fill="#1e2b33" text-anchor="middle" textLength="27.6" lengthAdjust="spacingAndGlyphs">2020</text>
<text x="563.59" y="543.4" font-size="9.6" font-weight="bold" fill="#1e2b33" text-anchor="middle" textLength="27.6" lengthAdjust="spacingAndGlyphs">2022</text>
<text x="613.6800000000001" y="543.4" font-size="9.6" font-weight="bold" fill="#1e2b33" text-anchor="middle" textLength="27.6" lengthAdjust="spacingAndGlyphs">2024</text>
<text x="663.7700000000001" y="543.4" font-size="9.6" font-weight="bold" fill="#1e2b33" text-anchor="middle" textLength="27.6" lengthAdjust="spacingAndGlyphs">2026</text>
<text x="713.86" y="543.4" font-size="9.6" font-weight="bold" fill="#1e2b33" text-anchor="middle" textLength="27.6" lengthAdjust="spacingAndGlyphs">2028</text>
<text x="763.95" y="543.4" font-size="9.6" font-weight="bold" fill="#1e2b33" text-anchor="middle" textLength="27.6" lengthAdjust="spacingAndGlyphs">2030</text>
<text x="814.0400000000001" y="543.4" font-size="9.6" font-weight="bold" fill="#1e2b33" text-anchor="middle" textLength="27.6" lengthAdjust="spacingAndGlyphs">2032</text>
<path d="M855 219H926a2 2 0 0 1 2 2V240a2 2 0 0 1 -2 2H855Z" fill="#1f9e86"/>
<text x="863" y="228.3" font-size="9" font-weight="normal" fill="#ffffff" text-anchor="start" textLength="60" lengthAdjust="spacingAndGlyphs" stroke="#ffffff" stroke-width="0.12">4,082.0726</text>
<text x="863" y="238.4" font-size="8.8" font-weight="normal" fill="#c4e8df" text-anchor="start" textLength="35.2" lengthAdjust="spacingAndGlyphs" >7d 13h</text>
<path d="M855 286H926a2 2 0 0 1 2 2V296a2 2 0 0 1 -2 2H855Z" fill="#f7a45e"/>
<text x="863" y="295.3" font-size="9.3" font-weight="normal" fill="#2a1420" text-anchor="start" textLength="60" lengthAdjust="spacingAndGlyphs" stroke="#2a1420" stroke-width="0.25">3,295.7696</text>
</svg></body></html>
